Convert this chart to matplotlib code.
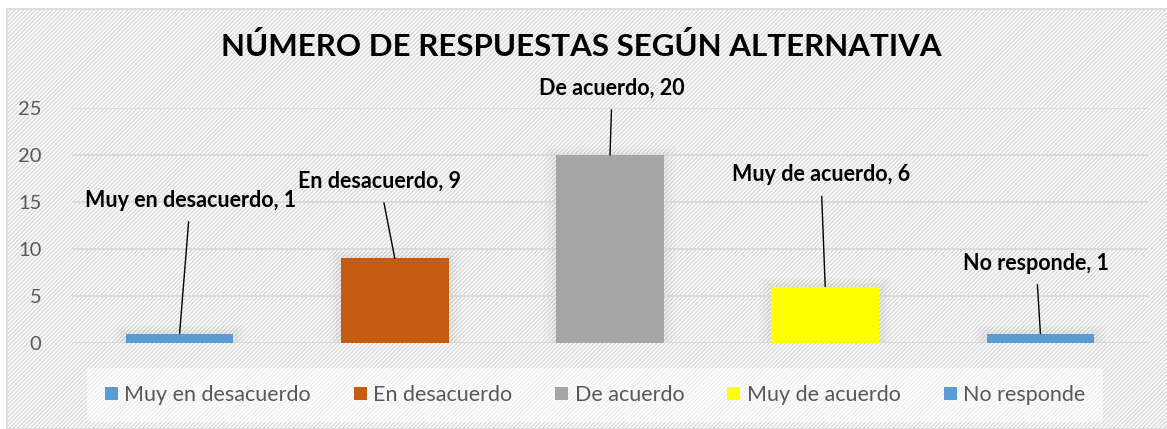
import matplotlib
matplotlib.use("Agg")
import matplotlib.pyplot as plt
from matplotlib.patches import Rectangle

# data
categories = ["Muy en desacuerdo", "En desacuerdo", "De acuerdo", "Muy de acuerdo", "No responde"]
counts = [1, 9, 20, 6, 1]
colors = ["#5b9bd5", "#c55a11", "#a5a5a5", "#ffff00", "#5b9bd5"]
yticks = [0, 5, 10, 15, 20, 25]

# label positions (data coords of the text centre)
label_pos = [(0.05, 15.2), (0.93, 17.2), (2.01, 27.1), (2.98, 17.9), (3.98, 8.5)]

plt.rcParams["font.family"] = ["Lato", "DejaVu Sans"]
plt.rcParams["hatch.color"] = "#eeeeee"
plt.rcParams["hatch.linewidth"] = 1.0

W, H = 1167, 429
fig = plt.figure(figsize=(W / 100, H / 100), dpi=100)
fig.patch.set_facecolor("white")

# hatched background + chart border
bg = Rectangle((7 / W, 0), 1.2, (H - 9) / H, transform=fig.transFigure,
               facecolor="white", edgecolor="#d9d9d9", hatch="////////", lw=1.2, zorder=0)
fig.patches.append(bg)

ax = fig.add_axes([72 / W, 1 - 343 / H, (1148 - 72) / W, (343 - 108) / H])
ax.set_zorder(2)
ax.patch.set_alpha(0)
ax.set_xlim(-0.5, 4.5)
ax.set_ylim(0, 25)

# soft shadow behind bars
x = range(len(categories))
for k, a in [(0.16, 0.03), (0.11, 0.04), (0.06, 0.05)]:
    for xi, v in zip(x, counts):
        ax.add_patch(Rectangle((xi - 0.25 - k * 0.35, 0), 0.5 + k * 0.7, v + k * 6,
                               facecolor="#808080", edgecolor="none", alpha=a, zorder=1))

bars = ax.bar(x, counts, width=0.5, color=colors, zorder=3)

ax.set_yticks(yticks)
ax.tick_params(axis="y", length=0, labelsize=14.5, labelcolor="#595959", pad=22)
ax.set_xticks([])
ax.grid(axis="y", color="#d9d9d9", lw=1.3, zorder=0)
for s in ax.spines.values():
    s.set_visible(False)

for i, (name, v) in enumerate(zip(categories, counts)):
    ax.annotate(f"{name}, {v}", xy=(i, v), xytext=label_pos[i], textcoords="data",
                ha="center", va="center", fontsize=15.5, fontweight="bold", color="black",
                annotation_clip=False, zorder=5,
                arrowprops=dict(arrowstyle="-", color="black", lw=1.0, shrinkA=6, shrinkB=0))

fig.text(581 / W, 1 - 46 / H, "NÚMERO DE RESPUESTAS SEGÚN ALTERNATIVA",
         ha="center", va="center", fontsize=22.5, fontweight="bold", color="black")

handles = [Rectangle((0, 0), 1, 1, facecolor=c, edgecolor="none") for c in colors]
leg = fig.legend(handles, categories, loc="center", bbox_to_anchor=(595 / W, 1 - 395 / H),
                 ncol=5, frameon=True, fontsize=15.5, handlelength=0.6, handleheight=0.6,
                 handletextpad=0.3, columnspacing=2.0, borderpad=0.8)
leg.set_zorder(3)
leg.get_frame().set_facecolor("white")
leg.get_frame().set_alpha(0.6)
leg.get_frame().set_edgecolor("none")
for t in leg.get_texts():
    t.set_color("#595959")

fig.savefig("out.png", dpi=100)
